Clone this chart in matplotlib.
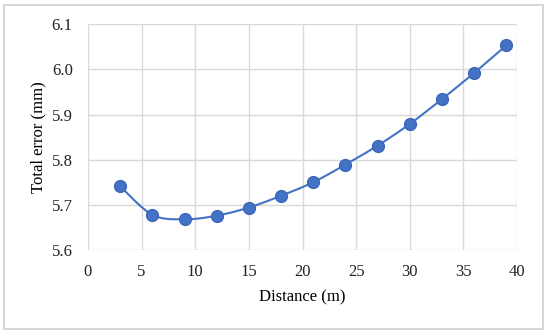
import matplotlib.pyplot as plt
import numpy as np
from matplotlib.patches import Rectangle

distance = [3, 6, 9, 12, 15, 18, 21, 24, 27, 30, 33, 36, 39]
total_error = [5.741, 5.678, 5.668, 5.676, 5.694, 5.720, 5.750, 5.789, 5.831, 5.879, 5.934, 5.992, 6.053]

plt.rcParams['font.family'] = ['Liberation Serif', 'DejaVu Serif']
plt.rcParams['font.size'] = 12

# Excel-like smoothed line (Catmull-Rom through the points)
def smooth(x, y, n=20):
    x = np.asarray(x, float)
    y = np.asarray(y, float)
    px = np.concatenate([[x[0]], x, [x[-1]]])
    py = np.concatenate([[y[0]], y, [y[-1]]])
    xs, ys = [], []
    t = np.linspace(0, 1, n)
    for i in range(1, len(px) - 2):
        p0, p1, p2, p3 = [np.array([px[j], py[j]]) for j in range(i - 1, i + 3)]
        b1 = p1 + (p2 - p0) / 6
        b2 = p2 - (p3 - p1) / 6
        pts = ((1 - t)**3)[:, None] * p1 + (3 * (1 - t)**2 * t)[:, None] * b1 \
            + (3 * (1 - t) * t**2)[:, None] * b2 + (t**3)[:, None] * p2
        xs.extend(pts[:, 0])
        ys.extend(pts[:, 1])
    return xs, ys

fig = plt.figure(figsize=(5.5, 3.36), dpi=100)
fig.patches.append(Rectangle((0.0073, 0.021), 0.98, 0.964, transform=fig.transFigure,
                             fill=False, edgecolor='#D0D0D0', linewidth=1.2))
ax = fig.add_axes([0.16, 0.256, 0.78, 0.672])

sx, sy = smooth(distance, total_error)
ax.plot(sx, sy, color='#4472C4', linewidth=1.5, zorder=3)
ax.plot(distance, total_error, 'o', color='#4472C4', markersize=8.5,
        markeredgecolor='#3A66B8', zorder=4)

ax.set_xlim(0, 40)
ax.set_ylim(5.6, 6.1)
ax.set_xticks(np.arange(0, 41, 5))
ax.set_yticks(np.arange(5.6, 6.11, 0.1))
ax.set_yticklabels(['5.6', '5.7', '5.8', '5.9', '6.0', '6.1'])
ax.grid(True, color='#D9D9D9', linewidth=1)
ax.set_axisbelow(True)
for s in ax.spines.values():
    s.set_visible(False)
ax.tick_params(axis='y', length=0, pad=11, colors='#222222')
ax.tick_params(axis='x', length=0, pad=10, colors='#222222')
ax.set_xlabel('Distance (m)', labelpad=7)
ax.set_ylabel('Total error (mm)', labelpad=4)

fig.savefig('out.png', facecolor='w')
